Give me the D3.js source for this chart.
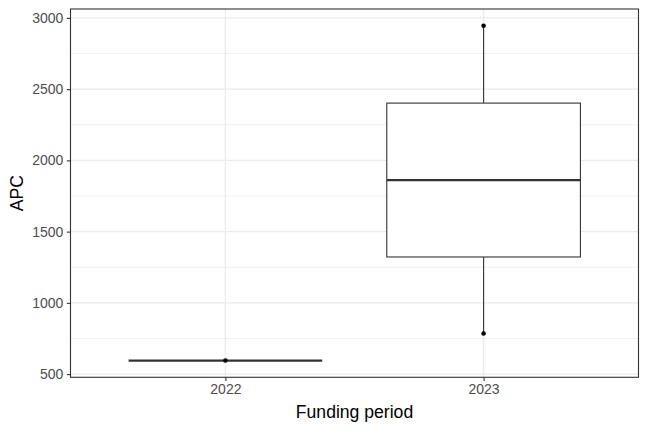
<!DOCTYPE html>
<html>
<head>
<meta charset="utf-8">
<script src="https://cdn.jsdelivr.net/npm/d3@7"></script>
<style>
  body { margin: 0; background: #fff; }
  svg { display: block; font-family: "Liberation Sans", Arial, sans-serif; }
</style>
</head>
<body>
<script>
// funding periods on the x axis
const periods = ["2022", "2023"];
// box summaries per period (APC)
const lowerWhisker = [595, 785];
const q1 = [595, 1322];
const medians = [595, 1862];
const q3 = [595, 2402];
const upperWhisker = [595, 2945];
// observed points drawn on top
const pointPeriods = ["2022", "2023", "2023"];
const pointValues = [595, 785, 2945];
const yTicks = [500, 1000, 1500, 2000, 2500, 3000];
const yMinor = [750, 1250, 1750, 2250, 2750];

const W = 648, H = 432;
const margin = {left: 70.5, right: 9.5, top: 9, bottom: 54.7};

const svg = d3.select("body").append("svg")
    .attr("width", W).attr("height", H);

// ggplot style expansion: 5% on continuous, 0.6 on discrete
const lo = d3.min(lowerWhisker), hi = d3.max(upperWhisker);
const pad = (hi - lo) * 0.05;
const y = d3.scaleLinear().domain([lo - pad, hi + pad])
    .range([H - margin.bottom, margin.top]);
const x = d3.scalePoint().domain(periods)
    .range([margin.left, W - margin.right]).padding(0.6);
const step = x.step();
const boxW = step * 0.75;

const grid = svg.append("g");
// minor gridlines
grid.selectAll(".minor").data(yMinor).join("line")
    .attr("x1", margin.left).attr("x2", W - margin.right)
    .attr("y1", d => y(d)).attr("y2", d => y(d))
    .attr("stroke", "#ebebeb").attr("stroke-width", 0.7);
// major gridlines
grid.selectAll(".majory").data(yTicks).join("line")
    .attr("x1", margin.left).attr("x2", W - margin.right)
    .attr("y1", d => y(d)).attr("y2", d => y(d))
    .attr("stroke", "#ebebeb").attr("stroke-width", 1.3);
grid.selectAll(".majorx").data(periods).join("line")
    .attr("x1", d => x(d)).attr("x2", d => x(d))
    .attr("y1", margin.top).attr("y2", H - margin.bottom)
    .attr("stroke", "#ebebeb").attr("stroke-width", 1.3);

// boxes
const boxes = svg.append("g").selectAll("g").data(periods).join("g");
boxes.append("line")
    .attr("x1", d => x(d)).attr("x2", d => x(d))
    .attr("y1", (d, i) => y(upperWhisker[i])).attr("y2", (d, i) => y(q3[i]))
    .attr("stroke", "#333").attr("stroke-width", 1.1);
boxes.append("line")
    .attr("x1", d => x(d)).attr("x2", d => x(d))
    .attr("y1", (d, i) => y(lowerWhisker[i])).attr("y2", (d, i) => y(q1[i]))
    .attr("stroke", "#333").attr("stroke-width", 1.1);
boxes.append("rect")
    .attr("x", d => x(d) - boxW / 2).attr("width", boxW)
    .attr("y", (d, i) => y(q3[i]))
    .attr("height", (d, i) => y(q1[i]) - y(q3[i]))
    .attr("fill", "#fff").attr("stroke", "#333").attr("stroke-width", 1.1);
boxes.append("line")
    .attr("x1", d => x(d) - boxW / 2).attr("x2", d => x(d) + boxW / 2)
    .attr("y1", (d, i) => y(medians[i])).attr("y2", (d, i) => y(medians[i]))
    .attr("stroke", "#333").attr("stroke-width", 2.2);

// points
svg.append("g").selectAll("circle").data(pointValues).join("circle")
    .attr("cx", (d, i) => x(pointPeriods[i]))
    .attr("cy", d => y(d))
    .attr("r", 2.3).attr("fill", "#000");

// panel border
svg.append("rect")
    .attr("x", margin.left).attr("y", margin.top)
    .attr("width", W - margin.left - margin.right)
    .attr("height", H - margin.top - margin.bottom)
    .attr("fill", "none").attr("stroke", "#333").attr("stroke-width", 1.1);

// axes
const yAxis = svg.append("g")
    .attr("transform", `translate(${margin.left},0)`)
    .call(d3.axisLeft(y).tickValues(yTicks).tickFormat(d3.format("d")).tickSize(3.7).tickPadding(3.5));
const xAxis = svg.append("g")
    .attr("transform", `translate(0,${H - margin.bottom})`)
    .call(d3.axisBottom(x).tickSize(3.7).tickPadding(3));
[yAxis, xAxis].forEach(a => {
    a.attr("font-size", 14).attr("font-family", "Liberation Sans, Arial, sans-serif");
    a.select(".domain").remove();
    a.selectAll(".tick line").attr("stroke", "#333").attr("stroke-width", 1.1);
    a.selectAll(".tick text").attr("fill", "#4d4d4d");
});

// axis titles
svg.append("text")
    .attr("x", (margin.left + W - margin.right) / 2).attr("y", 418)
    .attr("text-anchor", "middle").attr("font-size", 17.6).attr("fill", "#000")
    .text("Funding period");
svg.append("text")
    .attr("transform", `translate(23,${(margin.top + H - margin.bottom) / 2}) rotate(-90)`)
    .attr("text-anchor", "middle").attr("font-size", 17.6).attr("fill", "#000")
    .text("APC");
</script>
</body>
</html>
